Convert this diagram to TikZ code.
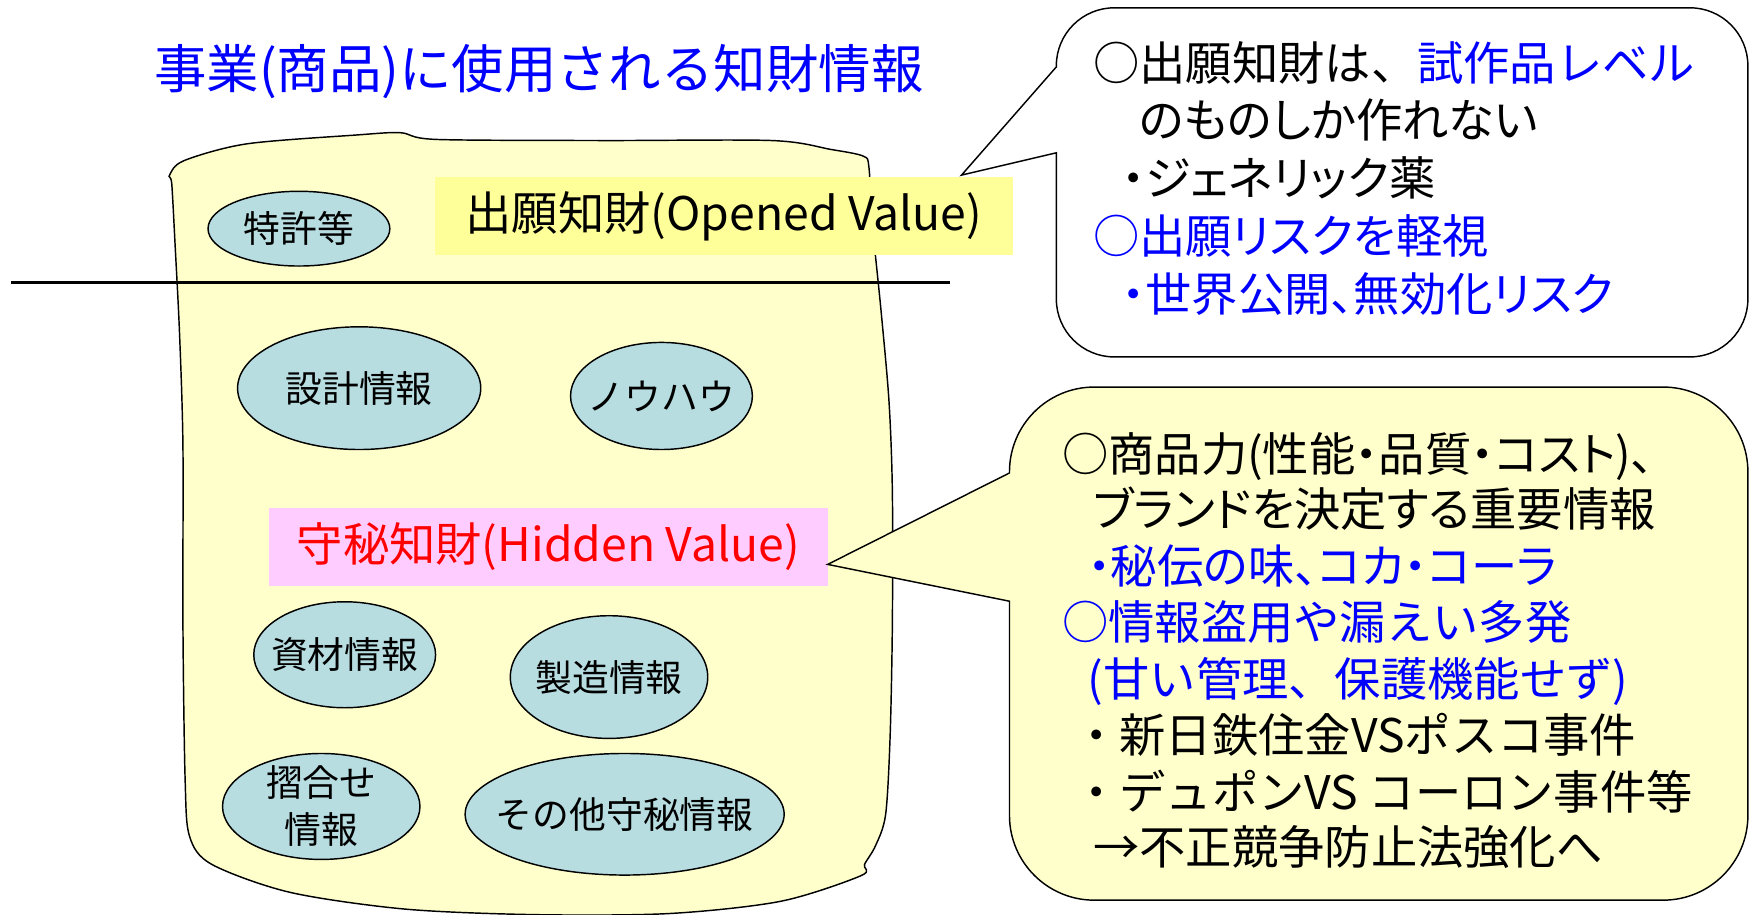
\documentclass[tikz,border=0pt]{standalone}
\usepackage{fontspec}
\setmainfont{Noto Sans CJK JP}
\newfontfamily\jpprop[RawFeature=+palt]{Noto Sans CJK JP}
\usetikzlibrary{shapes.geometric}
\definecolor{blobfill}{RGB}{255,255,204}
\definecolor{ellfill}{RGB}{183,221,225}
\definecolor{openfill}{RGB}{255,255,153}
\definecolor{hidfill}{RGB}{255,204,255}
\definecolor{tblue}{RGB}{0,0,255}
\definecolor{tred}{RGB}{255,0,0}
\begin{document}
\begin{tikzpicture}[x=1pt,y=1pt,
  outline/.style={draw=black, line width=1.3pt},
  ellbox/.style={ellipse, outline, fill=ellfill, inner sep=0pt},
  elltext/.style={font=\fontsize{33}{42}\selectfont, align=center, inner sep=0pt},
  labelbox/.style={rectangle, inner sep=0pt, font=\fontsize{41.5}{50}\selectfont},
  txtline/.style={anchor=base west, inner sep=0pt, font=\fontsize{41.5}{50}\selectfont},
  propline/.style={txtline, font=\fontsize{41.5}{50}\selectfont\jpprop}
]
\useasboundingbox (0,0) rectangle (1568,820);

% title
\node[anchor=base west, inner sep=0pt, font=\fontsize{47}{56}\selectfont, text=tblue] (title) at (138,741) {事業(商品)に使用される知財情報};

% blob
\draw[outline, fill=blobfill] plot[smooth cycle, tension=0.5] coordinates {
 (152,663) (165,676) (221,691) (320,699) (359,701) (391,695) (540,694) (692,694)
 (745,686) (774,680) (779,670) (782,620) (790,540) (797,460) (800,380) (800,260)
 (798,160) (794,90) (785,62) (775,45) (772,35) (700,12) (600,1) (480,0)
 (363,5) (260,20) (190,45) (170,70) (166,120) (164,260) (164,420) (161,520)
 (157,600) (154,655)};

% rule
\coordinate (rl) at (10,567);
\coordinate (rr) at (852,567);
\draw[line width=2.4pt] (rl) -- (rr);

% ellipses
\node[ellbox, minimum width=163pt, minimum height=67pt] (e1) at (268,615) {};
\node[elltext] (t1) at (e1) {特許等};
\node[ellbox, minimum width=218pt, minimum height=110pt] (e2) at (322,472) {};
\node[elltext] (t2) at (e2) {設計情報};
\node[ellbox, minimum width=163pt, minimum height=96pt] (e3) at (593,465) {};
\node[elltext] (t3) at (e3) {ノウハウ};
\node[ellbox, minimum width=163pt, minimum height=95pt] (e4) at (309,233) {};
\node[elltext] (t4) at (e4) {資材情報};
\node[ellbox, minimum width=177pt, minimum height=110pt] (e5) at (546,213) {};
\node[elltext] (t5) at (e5) {製造情報};
\node[ellbox, minimum width=177pt, minimum height=95pt] (e6) at (288,97) {};
\node[elltext] (t6) at (e6) {摺合せ\\情報};
\node[ellbox, minimum width=286pt, minimum height=109pt] (e7) at (560,90) {};
\node[elltext] (t7) at (e7) {その他守秘情報};

% labels
\node[labelbox, fill=openfill, minimum width=518pt, minimum height=70pt] (open) at (649,626) {出願知財(Opened Value)};
\node[labelbox, fill=hidfill, text=tred, minimum width=501pt, minimum height=70pt] (hid) at (491.5,330) {守秘知財(Hidden Value)};

% callout 1
\coordinate (tip1) at (862,663);
\draw[outline, fill=white] (947,760) -- (tip1) -- (947,683) -- (947,552)
  arc[start angle=180, end angle=270, radius=52] -- (1515,500)
  arc[start angle=270, end angle=360, radius=52] -- (1567,761)
  arc[start angle=0, end angle=90, radius=52] -- (999,813)
  arc[start angle=90, end angle=180, radius=52] -- cycle;
\node[txtline] (a1) at (980,748) {○出願知財は、{\color{tblue}試作品レベル}};
\node[propline] (a2) at (1021,697) {のものしか作れない};
\node[propline] (a3) at (1006,645) {・ジェネリック薬};
\node[propline, text=tblue] (a4) at (980,593) {○出願リスクを軽視};
\node[propline, text=tblue] (a5) at (1006,541) {・世界公開、無効化リスク};

% callout 2
\coordinate (tip2) at (742,314);
\draw[outline, fill=blobfill] (905,396) -- (tip2) -- (905,281) -- (905,89)
  arc[start angle=180, end angle=270, radius=76] -- (1491,13)
  arc[start angle=270, end angle=360, radius=76] -- (1567,397)
  arc[start angle=0, end angle=90, radius=76] -- (981,473)
  arc[start angle=90, end angle=180, radius=76] -- cycle;
\node[propline] (b1) at (952,397) {○商品力(性能・品質・コスト)、};
\node[propline] (b2) at (980,348) {ブランドを決定する重要情報};
\node[propline, text=tblue] (b3) at (975,297) {・秘伝の味、コカ・コーラ};
\node[txtline, text=tblue] (b4) at (952,247) {○情報盗用や漏えい多発};
\node[txtline, text=tblue] (b5) at (975,196) {(甘い管理、保護機能せず)};
\node[txtline] (b6) at (962,145) {・新日鉄住金VSポスコ事件};
\node[txtline] (b7) at (962,94) {・デュポンVS コーロン事件等};
\node[txtline] (b8) at (980,45) {→不正競争防止法強化へ};
\end{tikzpicture}
\end{document}
